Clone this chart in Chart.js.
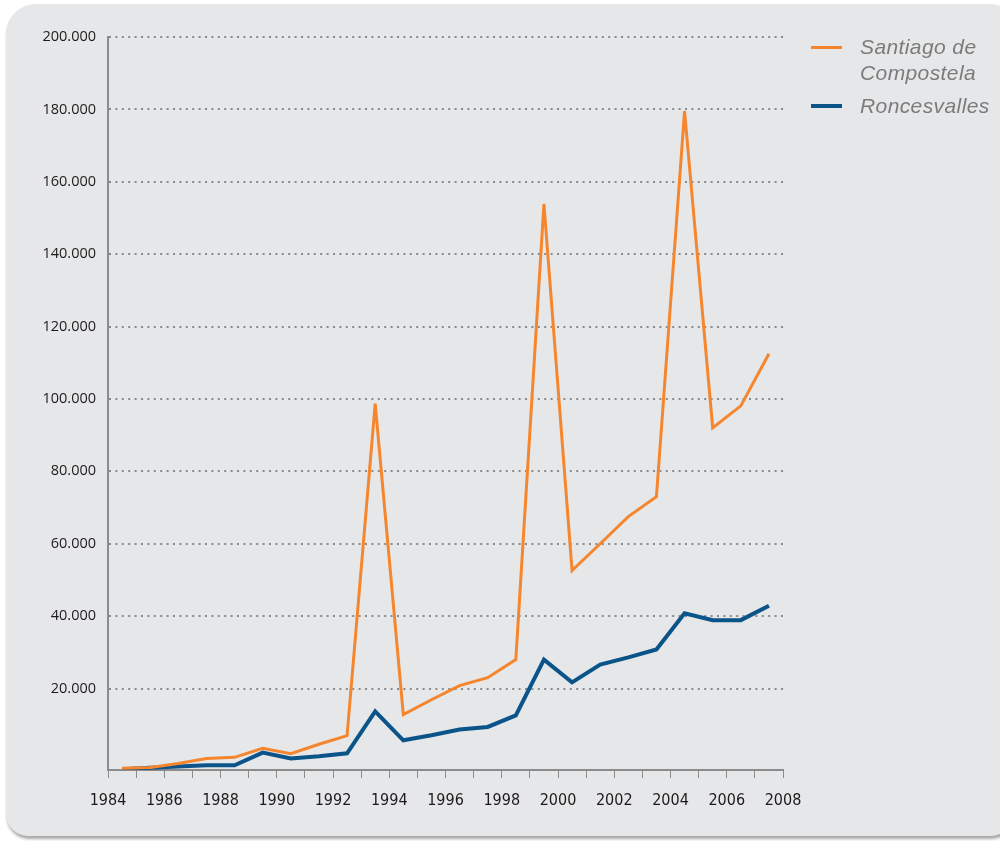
<!DOCTYPE html>
<html>
<head>
<meta charset="utf-8">
<script src="https://cdn.jsdelivr.net/npm/chart.js@4/dist/chart.umd.min.js"></script>
<style>
  html, body { margin: 0; padding: 0; background: #fff; overflow: hidden; }
  #wrap { position: relative; width: 1000px; height: 841px; overflow: hidden; }
  #panel {
    position: absolute; left: 6px; top: 4px; width: 1010px; height: 832px;
    background: #e6e7e9; border-radius: 30px 26px 26px 22px;
    box-shadow: 1px 3px 3px rgba(0, 0, 0, 0.35);
  }
  #box { position: absolute; left: 0; top: 0; width: 1000px; height: 841px; }
  .legend { position: absolute; left: 811px; font-family: "Liberation Sans", Arial, sans-serif;
    font-style: italic; font-size: 21px; letter-spacing: 0.4px; color: #7b7b7b; line-height: 26px; }
  .legend .sw { position: absolute; left: 0; width: 31px; height: 3px; }
  .legend .tx { position: absolute; left: 49px; white-space: nowrap; }
</style>
</head>
<body>
<div id="wrap">
  <div id="panel"></div>
  <div id="box"><canvas id="chart"></canvas></div>
  <div class="legend" style="top:34px">
    <div class="sw" style="top:12px;background:#f5862e"></div>
    <div class="tx">Santiago de<br>Compostela</div>
  </div>
  <div class="legend" style="top:93px">
    <div class="sw" style="top:11px;height:4px;background:#0a5489"></div>
    <div class="tx">Roncesvalles</div>
  </div>
</div>
<script>
/*
 * Peregrinos: Santiago de Compostela / Roncesvalles
 * valores (cada año se dibuja a mitad de año)
 */
const years = [1984, 1985, 1986, 1987, 1988, 1989, 1990, 1991, 1992, 1993, 1994, 1995,
  1996, 1997, 1998, 1999, 2000, 2001, 2002, 2003, 2004, 2005, 2006, 2007];
const santiago = [-2000, -1800, -700, 700, 1000, 3500, 2000, 4600, 7000, 98700, 12800, 16900,
  20800, 23000, 28000, 153900, 52600, 60000, 67500, 73000, 179500, 92000, 98100, 112500];
const roncesvalles = [-2300, -1900, -1500, -1200, -1200, 2300, 700, 1300, 2100, 13700, 5700, 7100,
  8700, 9400, 12600, 28000, 21700, 26600, 28600, 30800, 40800, 38900, 38900, 42900];
const yTicks = [20000, 40000, 60000, 80000, 100000, 120000, 140000, 160000, 180000, 200000];

function toPoints(values) {
  return values.map((v, i) => ({ x: years[i] + 0.5, y: v }));
}

function fmt(v) {
  return String(v).replace(/\B(?=(\d{3})+(?!\d))/g, ".");
}

const ctx = document.getElementById("chart");
new Chart(ctx, {
  type: "line",
  data: {
    datasets: [
      {
        label: "Santiago de Compostela",
        data: toPoints(santiago),
        borderColor: "#f5862e",
        borderWidth: 3,
        borderJoinStyle: "miter",
        pointRadius: 0,
        tension: 0,
        fill: false,
      },
      {
        label: "Roncesvalles",
        data: toPoints(roncesvalles),
        borderColor: "#0a5489",
        borderWidth: 4,
        borderJoinStyle: "miter",
        pointRadius: 0,
        tension: 0,
        fill: false,
      },
    ],
  },
  options: {
    responsive: true,
    maintainAspectRatio: false,
    animation: false,
    layout: { padding: { left: 0, right: 217, top: 37, bottom: 0 } },
    plugins: {
      legend: { display: false },
      tooltip: { enabled: false },
    },
    scales: {
      x: {
        type: "linear",
        min: 1984,
        max: 2008,
        afterBuildTicks: (scale) => {
          const t = [];
          for (let y = 1984; y <= 2008; y++) t.push({ value: y });
          scale.ticks = t;
        },
        afterFit: (scale) => { scale.height = 71; },
        grid: {
          drawOnChartArea: false,
          drawTicks: true,
          tickLength: 8,
          color: "#8c8c8c",
          lineWidth: 1,
        },
        border: { color: "#8c8c8c", width: 2 },
        ticks: {
          autoSkip: false,
          maxRotation: 0,
          padding: 13,
          color: "#1e1b1c",
          font: { family: "'Liberation Sans Narrow', 'DejaVu Sans Condensed', sans-serif", size: 16 },
          callback: (v) => (v % 2 === 0 ? String(v) : ""),
        },
      },
      y: {
        min: -2500,
        max: 200000,
        afterBuildTicks: (scale) => {
          scale.ticks = yTicks.map((v) => ({ value: v }));
        },
        afterFit: (scale) => { scale.width = 108; },
        grid: {
          drawTicks: false,
          color: "#8a8a8a",
          lineWidth: 2,
        },
        border: { color: "#8c8c8c", width: 2, dash: [2, 4.4] },
        ticks: {
          padding: 12,
          color: "#1e1b1c",
          font: { family: "'Open Sans', sans-serif", size: 14.5 },
          callback: (v) => fmt(v),
        },
      },
    },
  },
});
</script>
</body>
</html>
